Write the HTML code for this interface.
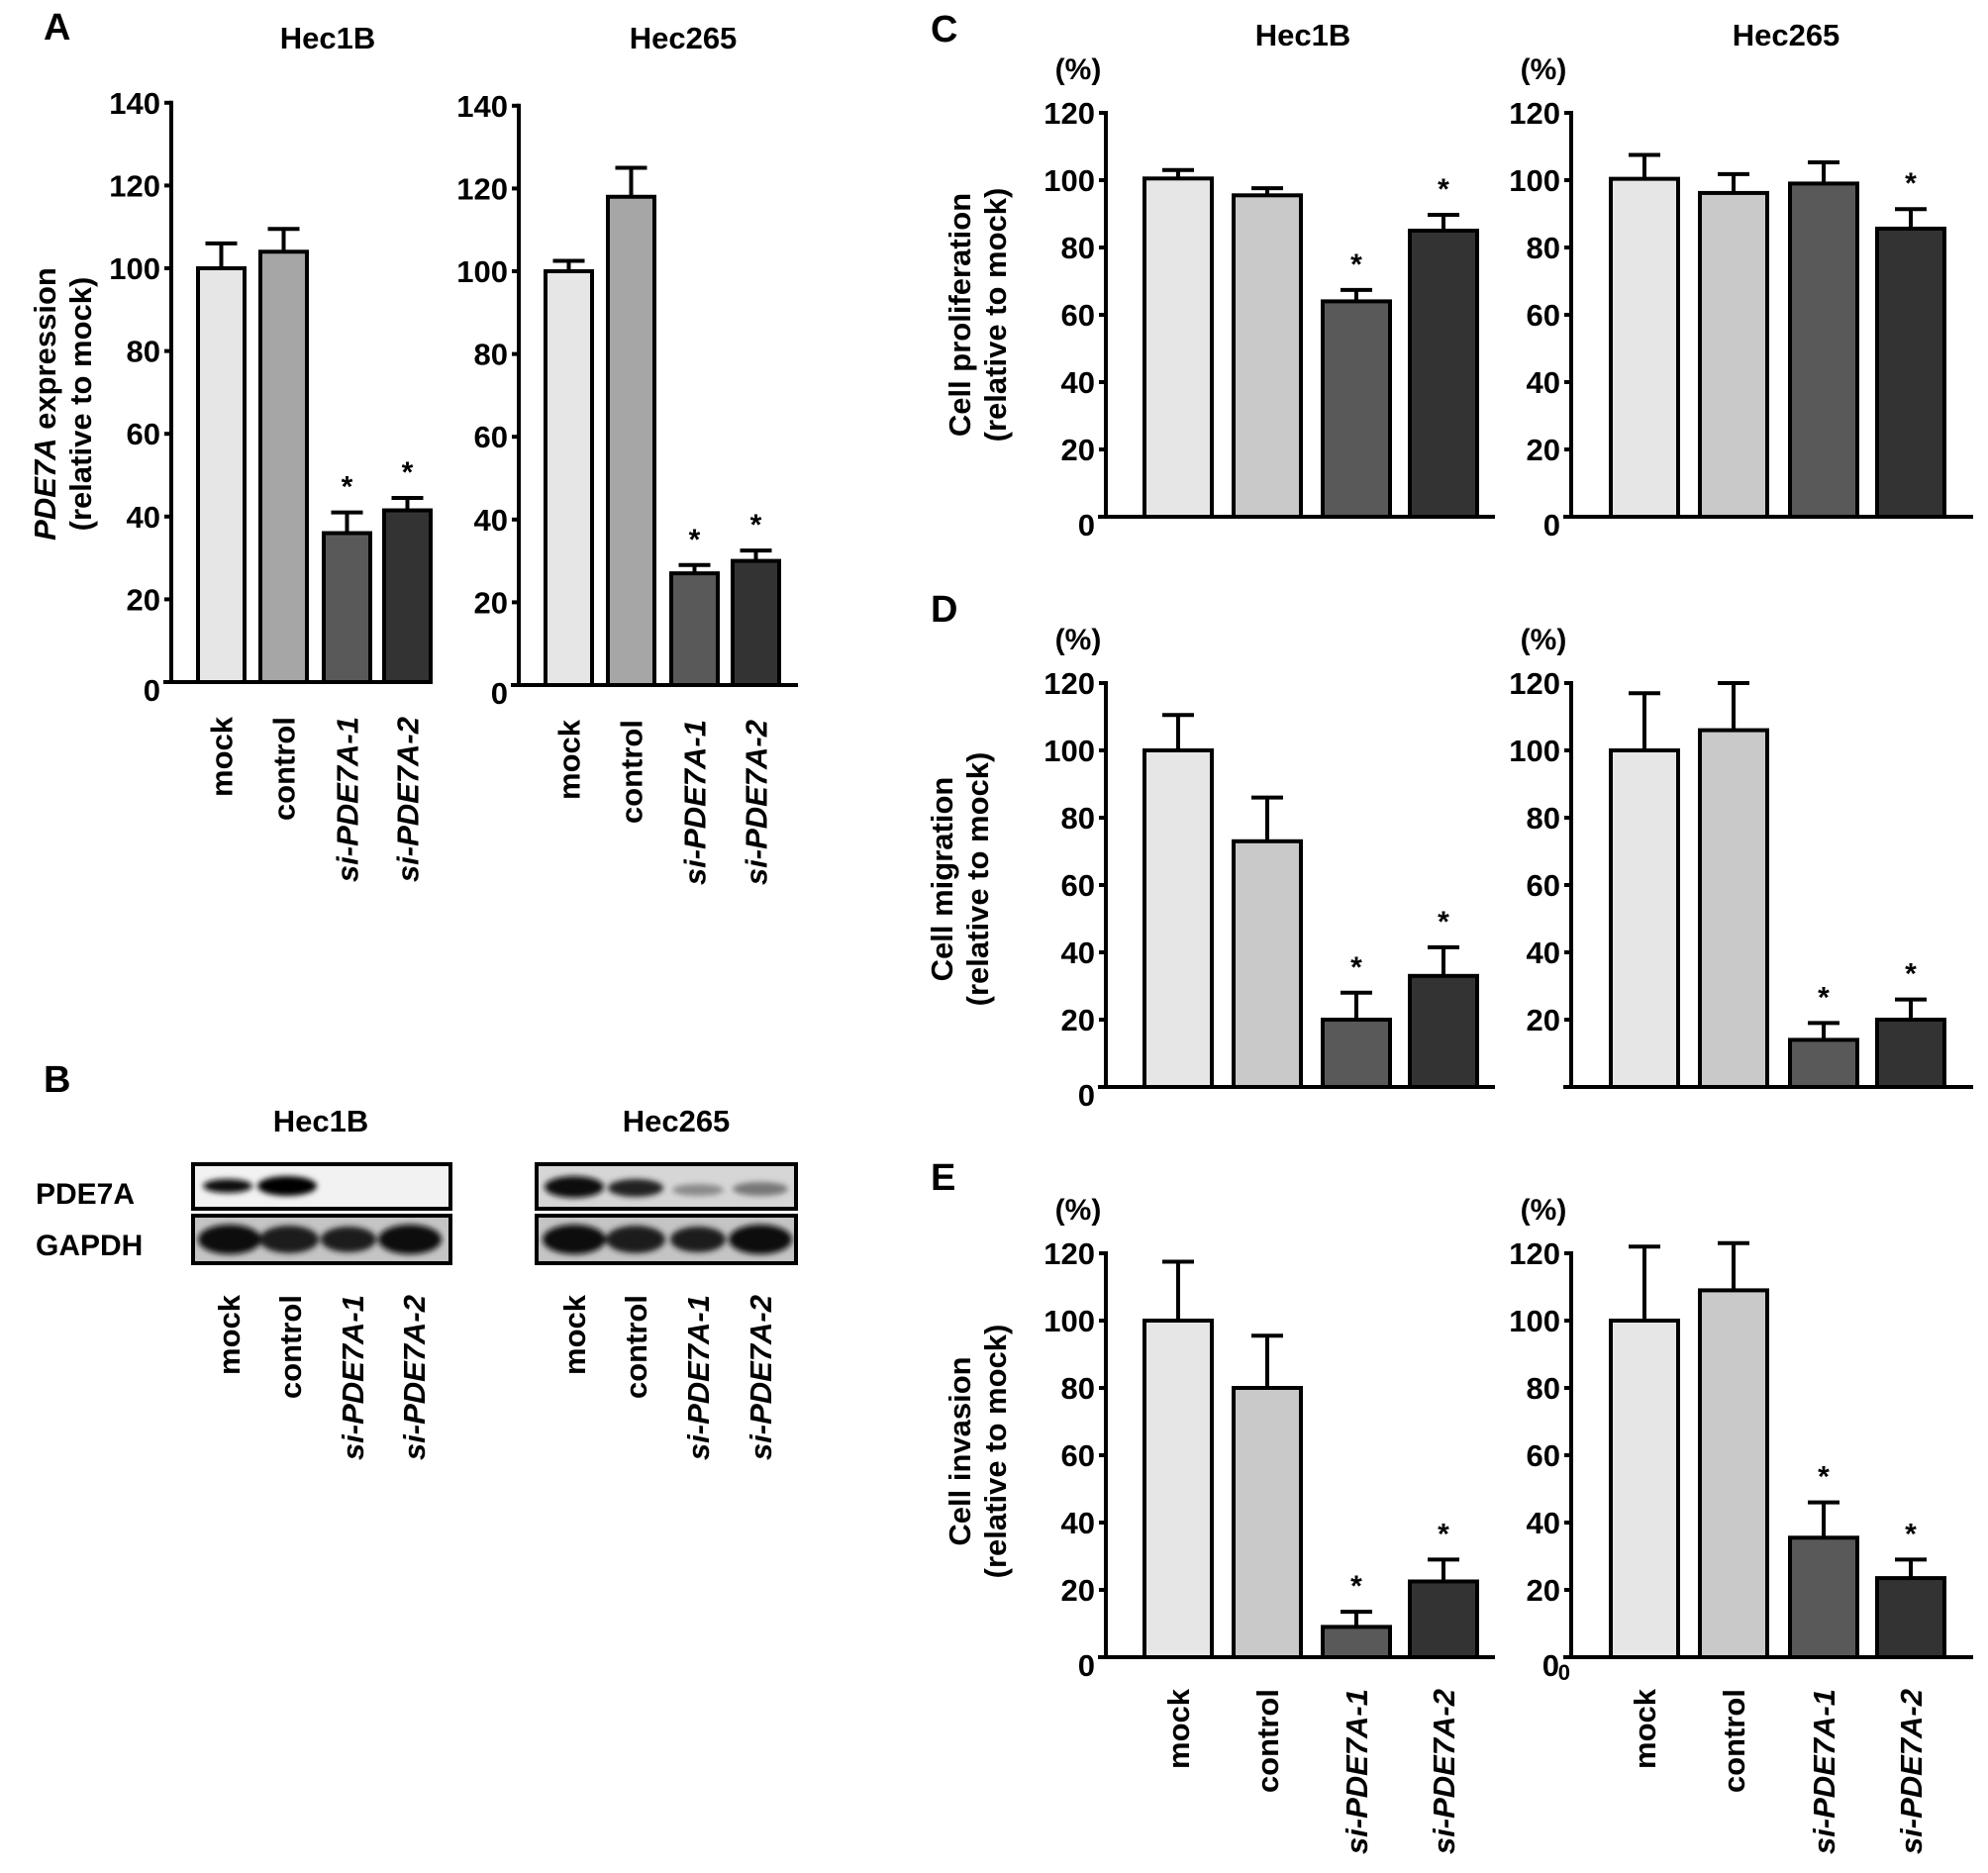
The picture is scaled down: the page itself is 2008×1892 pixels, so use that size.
<!DOCTYPE html>
<html><head><meta charset="utf-8">
<style>
html,body{margin:0;padding:0;background:#fff;}
svg{display:block;font-family:"Liberation Sans",Arial,sans-serif;font-weight:bold;}
</style></head>
<body>
<svg id="fig" width="2008" height="1892" viewBox="0 0 2008 1892" xmlns="http://www.w3.org/2000/svg">
<rect x="0" y="0" width="2008" height="1892" fill="#fff"/>
<g id="static">
<text x="44" y="40" font-size="38">A</text>
<text x="940" y="42" font-size="38">C</text>
<text x="940" y="628" font-size="38">D</text>
<text x="940" y="1202" font-size="38">E</text>
<text x="44" y="1103" font-size="38">B</text>

<text x="331" y="49" font-size="31" text-anchor="middle">Hec1B</text>
<text x="690" y="49" font-size="31" text-anchor="middle">Hec265</text>
<text x="1316" y="46" font-size="31" text-anchor="middle">Hec1B</text>
<text x="1804" y="46" font-size="31" text-anchor="middle">Hec265</text>

<g font-size="31">
<text transform="translate(56,408) rotate(-90)" text-anchor="middle"><tspan font-style="italic">PDE7A</tspan> expression</text>
<text transform="translate(92,408) rotate(-90)" text-anchor="middle">(relative to mock)</text>
</g>
<g font-size="31">
<text transform="translate(980,318) rotate(-90)" text-anchor="middle">Cell proliferation</text>
<text transform="translate(1016,318) rotate(-90)" text-anchor="middle">(relative to mock)</text>
</g>
<g font-size="31">
<text transform="translate(962,888) rotate(-90)" text-anchor="middle">Cell migration</text>
<text transform="translate(998,888) rotate(-90)" text-anchor="middle">(relative to mock)</text>
</g>
<g font-size="31">
<text transform="translate(980,1466) rotate(-90)" text-anchor="middle">Cell invasion</text>
<text transform="translate(1016,1466) rotate(-90)" text-anchor="middle">(relative to mock)</text>
</g>

<text x="324" y="1143" font-size="31" text-anchor="middle">Hec1B</text>
<text x="683" y="1143" font-size="31" text-anchor="middle">Hec265</text>
<text x="36" y="1216" font-size="30">PDE7A</text>
<text x="36" y="1268" font-size="30">GAPDH</text>
<defs>
<filter id="blur" x="-20%" y="-50%" width="140%" height="200%"><feGaussianBlur stdDeviation="3"/></filter>
</defs>
<g>
<rect x="195" y="1176" width="260" height="45" fill="#f2f2f2" stroke="#000" stroke-width="4"/>
<rect x="195" y="1228" width="260" height="48" fill="#c4c4c4" stroke="#000" stroke-width="4"/>
<g filter="url(#blur)">
<ellipse cx="230" cy="1198" rx="25" ry="7" fill="#111"/>
<ellipse cx="290" cy="1198" rx="30" ry="10" fill="#000"/>
<ellipse cx="232" cy="1252" rx="32" ry="15" fill="#111"/>
<ellipse cx="292" cy="1252" rx="30" ry="14" fill="#1a1a1a"/>
<ellipse cx="352" cy="1252" rx="28" ry="13" fill="#1a1a1a"/>
<ellipse cx="414" cy="1252" rx="32" ry="15" fill="#111"/>
</g>
</g>
<g>
<rect x="542" y="1176" width="262" height="45" fill="#d6d6d6" stroke="#000" stroke-width="4"/>
<rect x="542" y="1228" width="262" height="48" fill="#c4c4c4" stroke="#000" stroke-width="4"/>
<g filter="url(#blur)">
<ellipse cx="580" cy="1199" rx="30" ry="11" fill="#111"/>
<ellipse cx="642" cy="1200" rx="28" ry="9" fill="#222"/>
<ellipse cx="705" cy="1202" rx="26" ry="6" fill="#8a8a8a"/>
<ellipse cx="768" cy="1201" rx="28" ry="7" fill="#777"/>
<ellipse cx="580" cy="1252" rx="32" ry="15" fill="#111"/>
<ellipse cx="642" cy="1252" rx="30" ry="14" fill="#1a1a1a"/>
<ellipse cx="705" cy="1252" rx="28" ry="13" fill="#1a1a1a"/>
<ellipse cx="768" cy="1252" rx="32" ry="15" fill="#111"/>
</g>
</g>
</g>
<g id="charts"></g>
</svg>
<script>
const categories = ["mock", "control", "si-PDE7A-1", "si-PDE7A-2"];
const aHec1bValues = [100, 104, 36, 41.5];
const aHec1bErrors = [106, 109.5, 41, 44.5];
const aHec1bStars = [false, false, true, true];
const aHec265Values = [100, 118, 27, 30];
const aHec265Errors = [102.5, 125, 29, 32.5];
const aHec265Stars = [false, false, true, true];
const cHec1bValues = [100.5, 95.5, 64, 85];
const cHec1bErrors = [103, 97.6, 67.4, 89.7];
const cHec1bStars = [false, false, true, true];
const cHec265Values = [100.4, 96.2, 99, 85.6];
const cHec265Errors = [107.5, 101.8, 105.3, 91.4];
const cHec265Stars = [false, false, false, true];
const dHec1bValues = [100, 73, 20, 33];
const dHec1bErrors = [110.5, 86, 28, 41.5];
const dHec1bStars = [false, false, true, true];
const dHec265Values = [100, 106, 14, 20];
const dHec265Errors = [117, 120, 19, 26];
const dHec265Stars = [false, false, true, true];
const eHec1bValues = [100, 80, 9, 22.5];
const eHec1bErrors = [117.5, 95.5, 13.5, 29];
const eHec1bStars = [false, false, true, true];
const eHec265Values = [100, 109, 35.5, 23.5];
const eHec265Errors = [122, 123, 46, 29];
const eHec265Stars = [false, false, true, true];
const ticksA = [0, 20, 40, 60, 80, 100, 120, 140];
const ticksPct = [0, 20, 40, 60, 80, 100, 120];
const ticksPctNoZero = [20, 40, 60, 80, 100, 120];
const blotCategories = ["mock", "control", "si-PDE7A-1", "si-PDE7A-2"];

const NS = "http://www.w3.org/2000/svg";
const root = document.getElementById("charts");
function mk(tag, attrs, parent) {
  const e = document.createElementNS(NS, tag);
  for (const k in attrs) e.setAttribute(k, attrs[k]);
  (parent || root).appendChild(e);
  return e;
}
function catLabel(parent, text, cx, topY) {
  const t = mk("text", {transform: "translate(" + (cx + 11) + "," + topY + ") rotate(-90)", "text-anchor": "end", "font-size": "31"}, parent);
  
  
  if (text.startsWith("si-")) {
    const s = mk("tspan", {"font-style": "italic"}, t);
    s.textContent = text;
  } else t.textContent = text;
}

function chart(cfg) {
  const g = mk("g", {});
  
  
  const y = v => cfg.zeroY - v * cfg.ppu;
  const colors = cfg.colors;
  cfg.values.forEach((v, i) => {
    const bx = cfg.barLefts[i];
    const cx = bx + cfg.barW / 2;
    const el = mk("line", {x1: cx, x2: cx, y1: y(v), y2: y(cfg.errors[i]), stroke: "#000", "stroke-width": 4}, g);
    
    
    const cap = mk("line", {x1: cx - 16, x2: cx + 16, y1: y(cfg.errors[i]), y2: y(cfg.errors[i]), stroke: "#000", "stroke-width": 4}, g);
    
    
    const r = mk("rect", {x: bx, y: y(v), width: cfg.barW, height: y(0) - y(v), fill: colors[i], stroke: "#000", "stroke-width": 4}, g);
    
    
    if (cfg.stars[i]) {
      const s = mk("text", {x: cx, y: y(cfg.errors[i]) - 16, "text-anchor": "middle", "font-size": "30"}, g);
      
      
      s.textContent = "*";
    }
  });
  const top = cfg.ticks[cfg.ticks.length - 1];
  const ya = mk("line", {x1: cfg.axisX, x2: cfg.axisX, y1: y(top) - 2, y2: y(0) + 2, stroke: "#000", "stroke-width": 4}, g);
  
  
  const xa = mk("line", {x1: cfg.axisX - 8, x2: cfg.axisEnd, y1: y(0), y2: y(0), stroke: "#000", "stroke-width": 4}, g);
  
  
  cfg.ticks.forEach(t => {
    const tk = mk("line", {x1: cfg.axisX - 7, x2: cfg.axisX, y1: y(t), y2: y(t), stroke: "#000", "stroke-width": 4}, g);
    
    
    const lb = mk("text", {x: cfg.axisX - 11, y: y(t) + 11 + (t === 0 ? 8 : 0), "text-anchor": "end", "font-size": "31"}, g);
    
    
    lb.textContent = String(t);
  });
  if (cfg.extraZero) {
    const lb = mk("text", {x: cfg.axisX - 12, y: y(0) + 19, "text-anchor": "end", "font-size": "31"}, g);
    
    
    lb.textContent = "0";
    const lb2 = mk("text", {x: cfg.axisX - 1, y: y(0) + 23, "text-anchor": "end", "font-size": "22"}, g);
    
    
    lb2.textContent = "0";
  }
  if (cfg.pct) {
    const p = mk("text", {x: cfg.axisX - 28, y: y(top) - 34, "text-anchor": "middle", "font-size": "30"}, g);
    
    
    p.textContent = "(%)";
  }
  if (cfg.catTop) {
    categories.forEach((c, i) => catLabel(g, c, cfg.barLefts[i] + cfg.barW / 2, cfg.catTop));
  }
}

const colA = ["#e6e6e6", "#a6a6a6", "#595959", "#333333"];
const colC = ["#e6e6e6", "#c9c9c9", "#595959", "#333333"];
const L1 = [1156, 1246, 1336, 1424], L2 = [1627, 1717, 1808, 1896];

chart({name: "chart-a-hec1b", values: aHec1bValues, errors: aHec1bErrors, stars: aHec1bStars, ticks: ticksA, axisX: 173, axisEnd: 412, zeroY: 689, ppu: 4.18, barLefts: [200, 263, 327, 388], barW: 47, colors: colA, catTop: 724});
chart({name: "chart-a-hec265", values: aHec265Values, errors: aHec265Errors, stars: aHec265Stars, ticks: ticksA, axisX: 524, axisEnd: 806, zeroY: 692, ppu: 4.18, barLefts: [551, 614, 678, 740], barW: 47, colors: colA, catTop: 727});
chart({name: "chart-c-hec1b", values: cHec1bValues, errors: cHec1bErrors, stars: cHec1bStars, ticks: ticksPct, axisX: 1117, axisEnd: 1510, zeroY: 522, ppu: 3.4, barLefts: L1, barW: 68, colors: colC, pct: true});
chart({name: "chart-c-hec265", values: cHec265Values, errors: cHec265Errors, stars: cHec265Stars, ticks: ticksPct, axisX: 1587, axisEnd: 1993, zeroY: 522, ppu: 3.4, barLefts: L2, barW: 68, colors: colC, pct: true});
chart({name: "chart-d-hec1b", values: dHec1bValues, errors: dHec1bErrors, stars: dHec1bStars, ticks: ticksPct, axisX: 1117, axisEnd: 1510, zeroY: 1098, ppu: 3.4, barLefts: L1, barW: 68, colors: colC, pct: true});
chart({name: "chart-d-hec265", values: dHec265Values, errors: dHec265Errors, stars: dHec265Stars, ticks: ticksPctNoZero, axisX: 1587, axisEnd: 1993, zeroY: 1098, ppu: 3.4, barLefts: L2, barW: 68, colors: colC, pct: true});
chart({name: "chart-e-hec1b", values: eHec1bValues, errors: eHec1bErrors, stars: eHec1bStars, ticks: ticksPct, axisX: 1117, axisEnd: 1510, zeroY: 1674, ppu: 3.4, barLefts: L1, barW: 68, colors: colC, pct: true, catTop: 1706});
chart({name: "chart-e-hec265", values: eHec265Values, errors: eHec265Errors, stars: eHec265Stars, ticks: ticksPctNoZero, axisX: 1587, axisEnd: 1993, zeroY: 1674, ppu: 3.4, barLefts: L2, barW: 68, colors: colC, pct: true, catTop: 1706, extraZero: true});

const blotG = mk("g", {});


const blotX1 = [231, 293, 356, 418], blotX2 = [580, 642, 705, 768];
blotCategories.forEach((c, i) => { catLabel(blotG, c, blotX1[i], 1308); catLabel(blotG, c, blotX2[i], 1308); });
</script>
</body></html>
